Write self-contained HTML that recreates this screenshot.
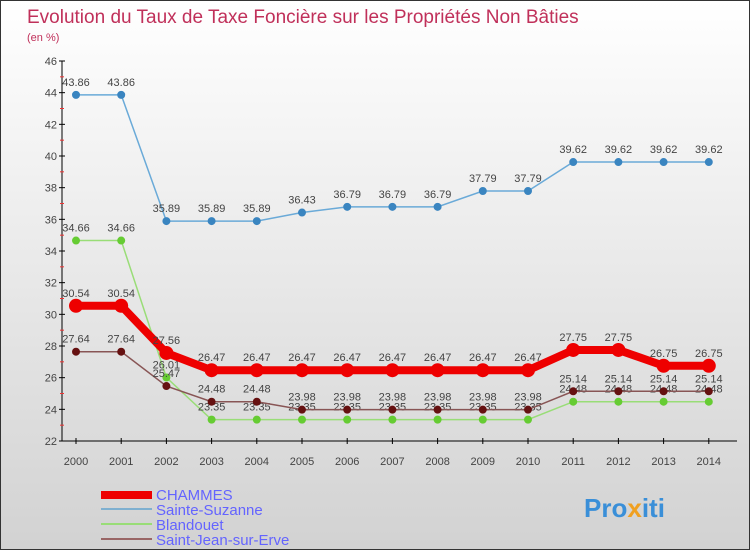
<!DOCTYPE html>
<html><head><meta charset="utf-8"><style>
body{margin:0}
#wrap{width:748px;height:548px;border:1px solid #333;background:linear-gradient(#ffffff,#d2d2d2);position:relative;font-family:"Liberation Sans",sans-serif;overflow:hidden}
</style></head><body>
<div id="wrap">
<svg id="svg" width="748" height="548" xmlns="http://www.w3.org/2000/svg">
<text x="26" y="22" font-size="19" fill="#c0305a">Evolution du Taux de Taxe Foncière sur les Propriétés Non Bâties</text>
<text x="26" y="40" font-size="11" fill="#c0305a">(en %)</text>
<g id="axes"></g><g id="series"></g>
<g>
<rect x="100" y="490" width="51" height="8" fill="#ee0000"/>
<text x="155" y="499" font-size="15" fill="#6464ff">CHAMMES</text>
<rect x="100" y="507" width="51" height="2" fill="#7fb0d0"/>
<text x="155" y="514" font-size="15" fill="#6464ff">Sainte-Suzanne</text>
<rect x="100" y="522" width="51" height="2" fill="#99dd77"/>
<text x="155" y="529" font-size="15" fill="#6464ff">Blandouet</text>
<rect x="100" y="537" width="51" height="2" fill="#996666"/>
<text x="155" y="544" font-size="15" fill="#6464ff">Saint-Jean-sur-Erve</text>
</g>
<g><text x="583" y="516" font-size="26" font-weight="bold" fill="#3a8fd8">Pro<tspan fill="#f0a020">x</tspan>iti</text></g>
</svg>
</div>
<script>
const years=[2000,2001,2002,2003,2004,2005,2006,2007,2008,2009,2010,2011,2012,2013,2014];
const yTicks=[22,24,26,28,30,32,34,36,38,40,42,44,46];
const chammes=[30.54,30.54,27.56,26.47,26.47,26.47,26.47,26.47,26.47,26.47,26.47,27.75,27.75,26.75,26.75];
const sainteSuzanne=[43.86,43.86,35.89,35.89,35.89,36.43,36.79,36.79,36.79,37.79,37.79,39.62,39.62,39.62,39.62];
const blandouet=[34.66,34.66,26.01,23.35,23.35,23.35,23.35,23.35,23.35,23.35,23.35,24.48,24.48,24.48,24.48];
const saintJean=[27.64,27.64,25.47,24.48,24.48,23.98,23.98,23.98,23.98,23.98,23.98,25.14,25.14,25.14,25.14];
const NS="http://www.w3.org/2000/svg";
const X=i=>75+i*45.2;
const Y=v=>60+(46-v)*(380/24);
function mk(tag,attrs,parent,txt){const e=document.createElementNS(NS,tag);for(const k in attrs)e.setAttribute(k,attrs[k]);if(txt!==undefined)e.textContent=txt;parent.appendChild(e);return e;}
const ax=document.getElementById('axes');
let a=mk('line',{x1:61,y1:60,x2:61,y2:440,stroke:'#000'},ax);


a=mk('line',{x1:61,y1:440,x2:736,y2:440,stroke:'#000'},ax);


yTicks.forEach(t=>{
 mk('line',{x1:58,y1:Y(t),x2:64,y2:Y(t),stroke:'#000'},ax);
 if(t<46)mk('line',{x1:59,y1:Y(t+1),x2:63,y2:Y(t+1),stroke:'#e33'},ax);
 const l=mk('text',{x:56,y:Y(t)+4,'font-size':11,'text-anchor':'end',fill:'#444'},ax,t);
 
 
});
years.forEach((yr,i)=>{
 mk('line',{x1:X(i),y1:437,x2:X(i),y2:443,stroke:'#000'},ax);
 const l=mk('text',{x:X(i),y:464,'font-size':11,'text-anchor':'middle',fill:'#444'},ax,yr);
 
 
});
const sg=document.getElementById('series');
function draw(vals,name,color,dot,w,r){
 const g=mk('g',{},sg);
 
 
 mk('polyline',{points:vals.map((v,i)=>X(i)+','+Y(v)).join(' '),fill:'none',stroke:color,'stroke-width':w},g);
 vals.forEach((v,i)=>{
  const c=mk('circle',{cx:X(i),cy:Y(v),r:r,fill:dot,stroke:dot},g);
  
  
  const t=mk('text',{x:X(i),y:Y(v)-9,'font-size':11,'text-anchor':'middle',fill:'#444'},g,v.toFixed(2));
  
  
 });
}
draw(sainteSuzanne,'sainte-suzanne','#6aaad8','#3a85c0',1.5,3.5);
draw(blandouet,'blandouet','#99dd77','#66cc33',1.5,3.5);
draw(saintJean,'saint-jean-sur-erve','#885555','#661111',1.5,3.5);
draw(chammes,'chammes','#ee0000','#ee0000',8,6.5);
</script>
</body></html>
